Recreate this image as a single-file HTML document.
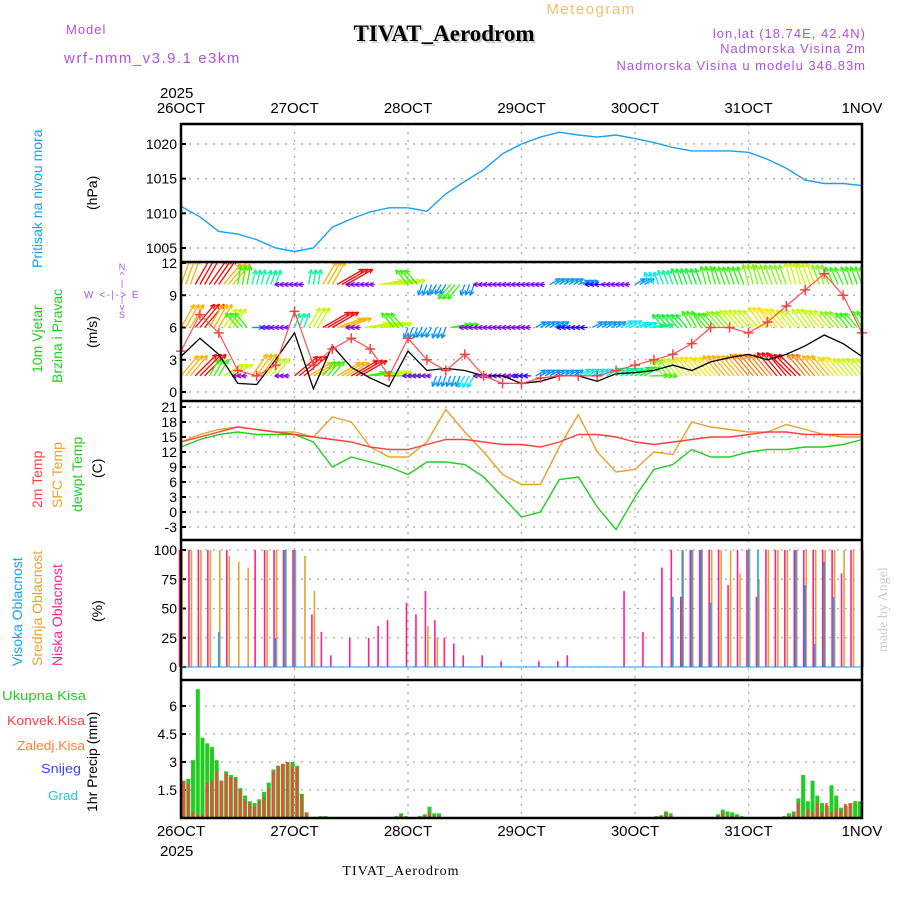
<!DOCTYPE html>
<html><head><meta charset="utf-8"><style>
body{margin:0;background:#fff}
svg{display:block;font-family:"Liberation Sans",sans-serif}
</style></head><body>
<svg id="c" width="900" height="900" viewBox="0 0 900 900">
<defs><clipPath id="wclip"><rect x="181" y="262" width="681" height="139"/></clipPath></defs>
<g id="hdr">
<text x="591" y="14" fill="#f0c070" font-size="15" text-anchor="middle" letter-spacing="1.5">Meteogram</text>
<text x="446" y="43" fill="#ccc" font-size="23" font-weight="bold" font-family="Liberation Serif,serif" text-anchor="middle">TIVAT_Aerodrom</text>
<text x="444" y="41" fill="#000" font-size="23" font-weight="bold" font-family="Liberation Serif,serif" text-anchor="middle">TIVAT_Aerodrom</text>
<text x="66" y="34" fill="#b050e0" font-size="13" letter-spacing="1">Model</text>
<text x="64" y="63" fill="#b050e0" font-size="15" letter-spacing="1.5">wrf-nmm_v3.9.1 e3km</text>
<text x="866" y="38" fill="#b050e0" font-size="13" text-anchor="end" letter-spacing="1">lon,lat (18.74E, 42.4N)</text>
<text x="866" y="53" fill="#b050e0" font-size="13" text-anchor="end" letter-spacing="1">Nadmorska Visina 2m</text>
<text x="866" y="70" fill="#b050e0" font-size="13" text-anchor="end" letter-spacing="1">Nadmorska Visina u modelu 346.83m</text>
<text x="160" y="98" font-size="15">2025</text>
<text x="160" y="856" font-size="15">2025</text>
<text x="401" y="875" font-size="14" font-family="Liberation Serif,serif" text-anchor="middle" letter-spacing="1">TIVAT_Aerodrom</text>
<text transform="translate(887,652) rotate(-90)" fill="#ccc" font-size="14" font-family="Liberation Serif,serif">made by Angel</text>
</g>
<g id="lab">
<text transform="translate(42,268) rotate(-90)" fill="#1aa0f0" font-size="14">Pritisak na nivou mora</text>
<text transform="translate(97,210) rotate(-90)" font-size="14">(hPa)</text>
<text transform="translate(42,373) rotate(-90)" fill="#22cc22" font-size="14">10m Vjetar</text>
<text transform="translate(62,383) rotate(-90)" fill="#22cc22" font-size="14">Brzina i Pravac</text>
<text transform="translate(97,348) rotate(-90)" font-size="14">(m/s)</text>
<text x="122" y="270" fill="#b050e0" font-size="9" text-anchor="middle"><tspan x="122" dy="0">N</tspan><tspan x="122" dy="8">^</tspan><tspan x="122" dy="8">|</tspan><tspan x="122" dy="16">|</tspan><tspan x="122" dy="8">v</tspan><tspan x="122" dy="8">S</tspan></text>
<text x="84" y="298" fill="#b050e0" font-size="10" letter-spacing="1.5">W &lt;-|-&gt; E</text>
<text transform="translate(42,508) rotate(-90)" fill="#ff4040" font-size="14">2m Temp</text>
<text transform="translate(62,508) rotate(-90)" fill="#e8a030" font-size="14">SFC Temp</text>
<text transform="translate(82,512) rotate(-90)" fill="#22cc22" font-size="14">dewpt Temp</text>
<text transform="translate(102,478) rotate(-90)" font-size="14">(C)</text>
<text transform="translate(22,666) rotate(-90)" fill="#1aa0f0" font-size="14">Visoka Oblacnost</text>
<text transform="translate(42,666) rotate(-90)" fill="#e8a030" font-size="14">Srednja Oblacnost</text>
<text transform="translate(62,666) rotate(-90)" fill="#ff2090" font-size="14">Niska Oblacnost</text>
<text transform="translate(102,622) rotate(-90)" font-size="14">(%)</text>
<text x="2" y="700" fill="#22cc22" font-size="13" textLength="84" lengthAdjust="spacingAndGlyphs">Ukupna Kisa</text>
<text x="7" y="725" fill="#ff4040" font-size="13" textLength="78" lengthAdjust="spacingAndGlyphs">Konvek.Kisa</text>
<text x="17" y="750" fill="#ff8030" font-size="13" textLength="68" lengthAdjust="spacingAndGlyphs">Zaledj.Kisa</text>
<text x="41" y="773" fill="#4040ff" font-size="13" textLength="40" lengthAdjust="spacingAndGlyphs">Snijeg</text>
<text x="48" y="800" fill="#22cccc" font-size="13" textLength="30" lengthAdjust="spacingAndGlyphs">Grad</text>
<text transform="translate(97,812) rotate(-90)" font-size="14">1hr Precip (mm)</text>
</g>
</svg>
<script>
const dayLabels=["26OCT","27OCT","28OCT","29OCT","30OCT","31OCT","1NOV"];
const presTicks=[1005,1010,1015,1020];
const windTicks=[0,3,6,9,12];
const tempTicks=[-3,0,3,6,9,12,15,18,21];
const cloudTicks=[0,25,50,75,100];
const precipTicks=[0,1.5,3,4.5,6];
// 4-hourly
const pressure=[1011,1009.5,1007.4,1007,1006.2,1005,1004.5,1005,1008,1009.2,1010.2,1010.8,1010.8,1010.3,1012.8,1014.6,1016.3,1018.6,1020,1021,1021.7,1021.3,1021,1021.3,1020.8,1020.2,1019.5,1019,1019,1019,1018.8,1017.8,1016.5,1014.8,1014.3,1014.3,1014];
const t2m=[14,15,16,17,16.5,16,15.5,15,14.5,14,13,12.5,12.5,13.5,14.5,14.5,14,13.5,13.5,13,14,15.5,15.5,15,14,13.5,14,14.5,15,15,15.5,16,16,15.5,15.5,15.5,15.5];
const tsfc=[14,15.5,16.5,17,16.5,16,16,15,19,18,13,11,11,14,20.5,16,12,7.5,5.5,5.5,13,19.5,12,8,8.5,12,11.5,18,17,16.5,16,16,17.5,16.5,15.5,15,15];
const tdew=[13,14.5,15.5,16,15.5,15.5,15.5,14,9,11,10,9,7.5,10,10,9.5,7,3,-1,0,6.5,7,1,-3.5,3,8.5,9.5,12.5,11,11,12,12.5,12.5,13,13,13.5,14.5];
const windSpd=[3.3,5,3.5,0.8,0.7,3,5.5,0.3,4.3,2.3,1.3,0.5,3.8,2,2.2,2,1.5,1.5,0.8,1,1.5,1.5,1,1.7,1.8,2,2.5,2,2.8,3.2,3.5,3,3.5,4.3,5.3,4.5,3.3];
const gust=[3.8,7.2,5.5,2,1.5,2.5,7.5,2.5,4,5,4,1.5,5,3,2,3.5,1.5,0.8,0.8,1.3,1.5,1.5,1.5,2,2.5,3,3.5,4.5,6,6,5.5,6.5,8,9.5,11,9,5.5];
// 3-hourly wind arrows, three levels
const levels=[10,6,1.5];
const dirTop=[20,30,35,40,10,15,20,270,270,10,30,60,270,270,80,80,320,200,210,220,200,270,270,270,270,270,60,60,70,270,270,270,60,340,340,340,340,345,340,340,345,340,340,345,340,340,335,340,340];
const spdTop=[7,8,8,7,5,4,4,1.5,1.5,4,7,8,1.5,1.5,6,6,5,3,3,5,3,1.5,1.5,1.5,1.5,1.5,3,3,3,2,1.5,1.5,3,3.5,4,4.5,4.5,5,5,5,5.5,5.5,5.5,6,6,5.5,5,5,5];
const dirMid=[30,40,30,35,320,90,270,270,20,30,60,70,270,80,80,320,200,210,200,80,270,270,270,270,270,60,60,270,270,60,60,60,70,80,320,320,330,320,320,320,320,325,320,320,325,320,320,320,330];
const spdMid=[7,8,7,6,5,3,1.5,1.5,4,6,8,7,1.5,6,6,5,3,3,3,5,1.5,1.5,1.5,1.5,1.5,3,3,2,2,3,3,3.5,3.5,4,4.5,4.5,5,5,5.5,6,6,6.5,6.5,6,6,6,5.5,5,5];
const dirBot=[40,45,30,60,270,35,40,270,50,60,40,60,60,80,80,90,270,270,200,200,210,270,270,270,270,60,60,60,60,60,60,60,60,90,320,320,320,320,320,320,320,320,320,315,320,320,320,320,320];
const spdBot=[7,8,5,6,1.5,7,6,1.5,8,7,5,7,8,5,6,5,1.5,1.5,3,3,3.5,1.5,1.5,1.5,2,3,3,3,3.5,3.5,4,4,4.5,5,5.5,6,6.5,6.5,7,7,7.5,7.5,8,8,7.5,7,6.5,6,6];
// 2-hourly cloud cover
const cloudHigh=[0,0,0,0,30,0,0,0,0,0,25,100,100,0,0,0,0,0,0,0,0,0,0,0,0,0,0,0,0,0,0,0,0,0,0,0,0,0,0,0,0,0,0,0,0,0,0,0,0,0,0,0,60,100,100,100,55,0,0,0,100,100,0,0,0,100,70,20,90,60,0,0,0];
const cloudMid=[100,100,100,100,100,95,90,85,0,100,100,100,100,95,65,0,0,0,0,0,0,0,0,0,0,0,35,25,0,0,0,0,0,0,0,0,0,0,0,0,0,0,0,0,0,0,0,0,0,0,0,0,0,100,100,100,100,100,100,80,100,75,100,100,100,100,100,100,100,100,100,100,100];
const cloudLow=[100,100,100,100,0,100,0,0,100,100,100,100,100,0,45,30,10,0,25,0,25,35,40,0,55,45,65,40,25,20,10,0,10,0,5,0,0,0,5,0,5,10,0,0,0,0,0,65,0,30,0,85,100,60,100,100,100,100,70,100,100,60,100,100,100,100,100,100,100,100,80,100,0];
// hourly precip
const precipTotal=[2.0,2.1,3.1,6.9,4.3,4.0,3.8,3.1,2.0,2.5,2.3,2.2,1.6,1.2,0.9,0.8,1.0,1.4,1.9,2.6,2.8,2.9,3.0,3.0,2.8,1.3,0.3,0,0,0.1,0.1,0,0,0,0,0,0,0,0,0,0,0,0,0,0,0.1,0.25,0.1,0,0,0.1,0.2,0.6,0.25,0.25,0,0,0,0,0,0,0,0,0,0,0,0,0,0,0,0,0,0,0,0,0,0,0,0,0,0,0,0,0,0,0,0,0,0,0,0,0,0,0,0,0,0,0,0,0,0.1,0.15,0.35,0.25,0.05,0.05,0.05,0.05,0,0,0,0.05,0.05,0.2,0.45,0.35,0.3,0.2,0.1,0,0,0.03,0,0.05,0.05,0,0.05,0.1,0.25,0.35,1.05,2.3,0.9,2.0,1.2,0.8,0.65,1.75,1.2,0.55,0.65,0.8,0.9,0.9];
const precipConv=[2.0,1.8,0.3,0.2,0.2,1.9,2.0,2.5,2.0,2.4,2.2,2.1,1.5,1.0,0.8,0.6,0.9,1.1,1.6,2.5,2.8,2.9,3.0,2.8,2.7,1.2,0.3,0,0,0,0,0,0,0,0,0,0,0,0,0,0,0,0,0,0,0,0.15,0,0,0,0,0.1,0.3,0.1,0.1,0,0,0,0,0,0,0,0,0,0,0,0,0,0,0,0,0,0,0,0,0,0,0,0,0,0,0,0,0,0,0,0,0,0,0,0,0,0,0,0,0,0,0,0,0,0,0.1,0.25,0.1,0,0,0,0,0,0,0,0,0,0.1,0.3,0.1,0.1,0,0,0,0,0,0,0,0,0,0,0,0.1,0.25,0.8,0.1,0.45,0.3,0.8,0.3,0.8,0.3,0.5,0.4,0.75,0.75];

const svg=document.getElementById('c');
const NS='http://www.w3.org/2000/svg';
const X0=181,X1=862,HOURS=144;
const xh=h=>X0+(X1-X0)*h/HOURS;
function mk(tag,attrs,parent){const e=document.createElementNS(NS,tag);for(const k in attrs)e.setAttribute(k,attrs[k]);(parent||svg).appendChild(e);return e;}
function yP2(v){return 248-(v-1005)*(248-144)/15;}
function yW2(v){return 392-v*(392-263)/12;}
function yT2(v){return 512-v*5;}
function yC2(v){return 667-v*1.17;}
function yR2(v){return 818-v*(818-706)/6;}

const grid=mk('g',{});


function hgrid(vals,fy){vals.forEach(v=>{const y=fy(v);const l=mk('line',{x1:X0,x2:X1,y1:y,y2:y,stroke:'#aaa','stroke-dasharray':'2,6','stroke-width':1.3},grid);});}
hgrid(presTicks,yP2);hgrid(windTicks,yW2);hgrid(tempTicks,yT2);hgrid(cloudTicks,yC2);hgrid(precipTicks.slice(1),yR2);
dayLabels.forEach((d,i)=>{const x=xh(i*24);const l=mk('line',{x1:x,x2:x,y1:124,y2:818,stroke:'#aaa','stroke-dasharray':'2,6','stroke-width':1.3},grid);});

const tk=mk('g',{'font-size':14,'text-anchor':'end'});


function ticks(vals,fy,nm){vals.forEach(v=>{const t=mk('text',{x:177,y:fy(v)+5},tk);t.textContent=String(v);const m=mk('line',{x1:X0,x2:X0+5,y1:fy(v),y2:fy(v),stroke:'#000','stroke-width':2},tk);});}
ticks(presTicks,yP2,'pressure-tick');ticks(windTicks,yW2,'wind-tick');ticks(tempTicks,yT2,'temp-tick');ticks(cloudTicks,yC2,'cloud-tick');ticks(precipTicks.slice(1),yR2,'precip-tick');
dayLabels.forEach((d,i)=>{const x=xh(i*24);[113,836].forEach(y=>{const t=mk('text',{x:x,y:y,'font-size':15,'text-anchor':'middle'});t.textContent=d;});});

function line(arr,step,fy,color,w,nm){const pts=arr.map((v,i)=>xh(i*step).toFixed(1)+','+fy(v).toFixed(1)).join(' ');const p=mk('polyline',{points:pts,fill:'none',stroke:color,'stroke-width':w});return p;}
line(pressure,4,yP2,'#1aa0f0',1.4,'pressure-line');
line(tsfc,4,yT2,'#e8a030',1.4,'sfc-temp-line');
line(tdew,4,yT2,'#22cc22',1.4,'dewpt-line');
line(t2m,4,yT2,'#ff4040',1.4,'t2m-line');

const cg=mk('g',{});


function cbars(arr,off,color,nm){arr.forEach((v,i)=>{if(v<=0)return;const x=xh(i*2)+off;const b=mk('line',{x1:x,x2:x,y1:667,y2:yC2(v),stroke:color,'stroke-width':1.6},cg);});}
cbars(cloudMid,1,'#e8a030','mid-cloud-bar');cbars(cloudLow,-1.5,'#ff2090','low-cloud-bar');cbars(cloudHigh,0,'#1aa0f0','high-cloud-bar');
const cl=mk('line',{x1:X0,x2:X1,y1:667,y2:667,stroke:'#1aa0f0','stroke-width':1});

const pg=mk('g',{});


precipTotal.forEach((v,i)=>{if(v<=0)return;const x=xh(i+0.55);const b=mk('rect',{x:x-2,y:yR2(v),width:4,height:818-yR2(v),fill:'#22cc22'},pg);});
precipConv.forEach((v,i)=>{if(v<=0)return;const x=xh(i+0.55);const b=mk('rect',{x:x-1.5,y:yR2(v),width:2.5,height:818-yR2(v),fill:'#ff4040'},pg);});

function spdColor(s){const stops=[[1.5,270],[2.5,225],[3.5,185],[4.5,130],[5.5,90],[6.5,55],[7.5,30],[8.5,-30]];let h=stops[0][1];for(let i=0;i<stops.length-1;i++){if(s>=stops[i][0]&&s<=stops[i+1][0]){h=stops[i][1]+(s-stops[i][0])/(stops[i+1][0]-stops[i][0])*(stops[i+1][1]-stops[i][1]);}}if(s>8.5)h=-30;return 'hsl('+((h+360)%360)+',95%,50%)';}
const wg=mk('g',{'clip-path':'url(#wclip)'});


[[dirTop,spdTop],[dirMid,spdMid],[dirBot,spdBot]].forEach((pair,li)=>{const y0=yW2(levels[li]);pair[0].forEach((d,i)=>{const s=pair[1][i];const col=spdColor(s);const a=d*Math.PI/180;const L=s*3.8;[0,4.7,9.4].forEach(dx=>{const x0=xh(i*3)+dx;const x1=x0+L*Math.sin(a),y1=y0-L*Math.cos(a);const g=mk('g',{stroke:col,'stroke-width':1.3,fill:'none'},wg);mk('line',{x1:x0,y1:y0,x2:x1,y2:y1},g);const ha=a+Math.PI;[0.45,-0.45].forEach(o=>{mk('line',{x1:x1,y1:y1,x2:x1+5*Math.sin(ha+o),y2:y1-5*Math.cos(ha+o)},g);});});});});

line(windSpd,4,yW2,'#000',1.3,'wind-speed-line');
line(gust,4,yW2,'#ff5050',1.2,'gust-line');
const gg=mk('g',{stroke:'#ff4040','stroke-width':1.5});


gust.forEach((v,i)=>{const x=xh(i*4),y=yW2(v);const p=mk('path',{d:`M${x-5},${y}H${x+5}M${x},${y-5}V${y+5}`},gg);});

const fr=mk('g',{stroke:'#000',fill:'none','stroke-width':2.5});


mk('rect',{x:X0,y:124,width:X1-X0,height:694},fr);
[262,401,540,680].forEach(y=>mk('line',{x1:X0,x2:X1,y1:y,y2:y},fr));
</script>
</body></html>
